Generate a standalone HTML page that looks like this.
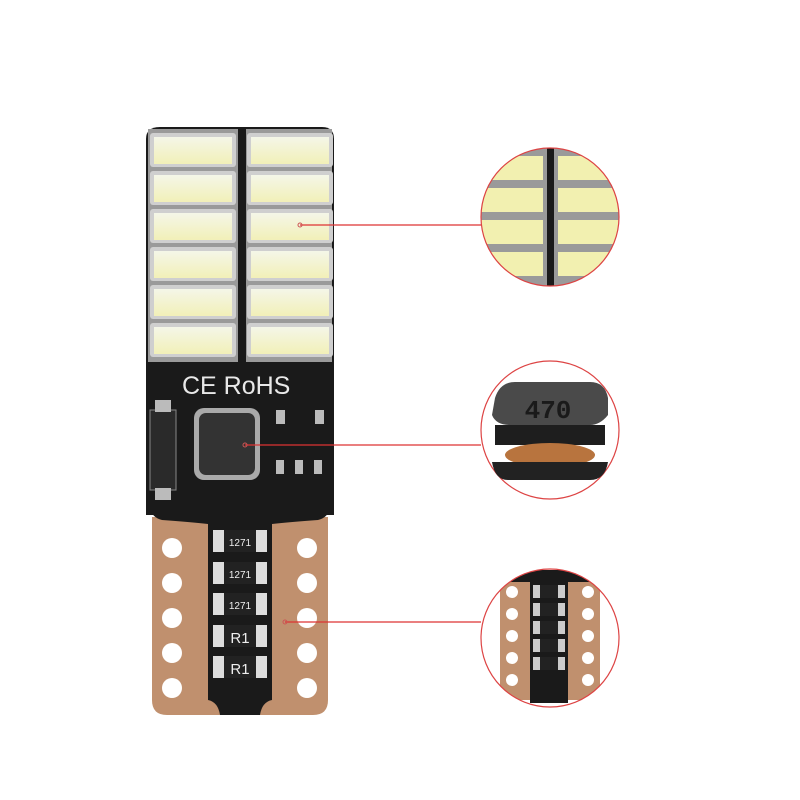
<!DOCTYPE html>
<html><head><style>html,body{margin:0;padding:0;background:#fff;width:800px;height:800px;overflow:hidden}</style></head>
<body>
<svg width="800" height="800" viewBox="0 0 800 800" xmlns="http://www.w3.org/2000/svg">
<defs>
<linearGradient id="led" x1="0" y1="0" x2="0" y2="1"><stop offset="0" stop-color="#f4f6e8"/><stop offset="1" stop-color="#f2f0b8"/></linearGradient>
<clipPath id="c1"><circle cx="550" cy="217" r="69"/></clipPath>
<clipPath id="c3"><circle cx="550" cy="638" r="69"/></clipPath>
</defs>
<!-- board top -->
<path d="M160 127 H322 Q334 127 334 139 V515 H146 V139 Q146 127 160 127Z" fill="#1a1a1a"/>
<rect x="148" y="129" width="184" height="233" fill="#9a9a9a"/>
<rect x="238" y="129" width="8" height="233" fill="#1a1a1a"/>
<g fill="#cfcfcf">
<rect x="150" y="133" width="86" height="34" rx="3"/><rect x="150" y="171" width="86" height="34" rx="3"/><rect x="150" y="209" width="86" height="34" rx="3"/><rect x="150" y="247" width="86" height="34" rx="3"/><rect x="150" y="285" width="86" height="34" rx="3"/><rect x="150" y="323" width="86" height="34" rx="3"/>
<rect x="247" y="133" width="86" height="34" rx="3"/><rect x="247" y="171" width="86" height="34" rx="3"/><rect x="247" y="209" width="86" height="34" rx="3"/><rect x="247" y="247" width="86" height="34" rx="3"/><rect x="247" y="285" width="86" height="34" rx="3"/><rect x="247" y="323" width="86" height="34" rx="3"/>
</g>
<g fill="url(#led)">
<rect x="154" y="137" width="78" height="27"/><rect x="154" y="175" width="78" height="27"/><rect x="154" y="213" width="78" height="27"/><rect x="154" y="251" width="78" height="27"/><rect x="154" y="289" width="78" height="27"/><rect x="154" y="327" width="78" height="27"/>
<rect x="251" y="137" width="78" height="27"/><rect x="251" y="175" width="78" height="27"/><rect x="251" y="213" width="78" height="27"/><rect x="251" y="251" width="78" height="27"/><rect x="251" y="289" width="78" height="27"/><rect x="251" y="327" width="78" height="27"/>
</g>
<text x="182" y="394" font-family="Liberation Sans, sans-serif" font-size="25" fill="#e8e8e8">CE RoHS</text>
<rect x="150" y="410" width="26" height="80" fill="#2a2a2a" stroke="#888" stroke-width="1"/>
<rect x="155" y="400" width="16" height="12" fill="#bbb"/><rect x="155" y="488" width="16" height="12" fill="#bbb"/>
<rect x="194" y="408" width="66" height="72" rx="10" fill="#aaa"/>
<rect x="199" y="413" width="56" height="62" rx="7" fill="#333"/>
<g fill="#bbb"><rect x="276" y="410" width="9" height="14"/><rect x="315" y="410" width="9" height="14"/><rect x="276" y="460" width="8" height="14"/><rect x="295" y="460" width="8" height="14"/><rect x="314" y="460" width="8" height="14"/></g>
<!-- bottom copper -->
<path d="M152 517 H328 V700 Q328 715 313 715 H167 Q152 715 152 700Z" fill="#c0906e"/>
<path d="M208 520 H272 V700 Q262 702 260 715 H220 Q218 702 208 700Z" fill="#1a1a1a"/>
<path d="M150 505 H330 Q330 517 318 520 Q290 522 272 524 H208 Q190 522 162 520 Q150 517 150 505Z" fill="#1a1a1a"/>
<g fill="#fff">
<circle cx="172" cy="548" r="10"/><circle cx="172" cy="583" r="10"/><circle cx="172" cy="618" r="10"/><circle cx="172" cy="653" r="10"/><circle cx="172" cy="688" r="10"/>
<circle cx="307" cy="548" r="10"/><circle cx="307" cy="583" r="10"/><circle cx="307" cy="618" r="10"/><circle cx="307" cy="653" r="10"/><circle cx="307" cy="688" r="10"/>
</g>
<g fill="#ddd"><rect x="213" y="530" width="54" height="22"/><rect x="213" y="562" width="54" height="22"/><rect x="213" y="593" width="54" height="22"/><rect x="213" y="625" width="54" height="22"/><rect x="213" y="656" width="54" height="22"/></g>
<g fill="#222"><rect x="224" y="530" width="32" height="22"/><rect x="224" y="562" width="32" height="22"/><rect x="224" y="593" width="32" height="22"/><rect x="224" y="625" width="32" height="22"/><rect x="224" y="656" width="32" height="22"/></g>
<g font-family="Liberation Sans, sans-serif" fill="#eee" text-anchor="middle">
<text x="240" y="546" font-size="10">1271</text><text x="240" y="578" font-size="10">1271</text><text x="240" y="609" font-size="10">1271</text>
<text x="240" y="643" font-size="15">R1</text><text x="240" y="674" font-size="15">R1</text></g>
<!-- lines -->
<g stroke="#d33" stroke-width="1.2"><line x1="300" y1="225" x2="481" y2="225"/><line x1="245" y1="445" x2="481" y2="445"/><line x1="285" y1="622" x2="481" y2="622"/></g>
<g fill="none" stroke="#c55" stroke-width="1"><circle cx="300" cy="225" r="2"/><circle cx="245" cy="445" r="2"/><circle cx="285" cy="622" r="2"/></g>
<!-- circle 1 -->
<g clip-path="url(#c1)">
<rect x="470" y="140" width="160" height="160" fill="#9a9a9a"/>
<rect x="547" y="140" width="7" height="160" fill="#1a1a1a"/>
<g fill="#f2f0b0"><rect x="470" y="156" width="73" height="24"/><rect x="470" y="188" width="73" height="24"/><rect x="470" y="220" width="73" height="24"/><rect x="470" y="252" width="73" height="24"/>
<rect x="558" y="156" width="73" height="24"/><rect x="558" y="188" width="73" height="24"/><rect x="558" y="220" width="73" height="24"/><rect x="558" y="252" width="73" height="24"/></g>
</g>
<circle cx="550" cy="217" r="69" fill="none" stroke="#d44" stroke-width="1.2"/>
<!-- circle 2 -->
<circle cx="550" cy="430" r="69" fill="#fff" stroke="#d44" stroke-width="1.2"/>
<path d="M495 398 Q500 382 515 382 H590 Q605 382 608 398 V415 Q600 425 590 425 H510 Q496 425 492 415Z" fill="#4a4a4a"/>
<rect x="495" y="425" width="110" height="20" fill="#1e1e1e"/>
<ellipse cx="550" cy="455" rx="45" ry="12" fill="#b8743e"/>
<path d="M492 462 H608 Q605 480 590 480 H508 Q495 480 492 462Z" fill="#222"/>
<text x="548" y="418" font-family="Liberation Mono, monospace" font-size="26" font-weight="bold" fill="#1a1a1a" text-anchor="middle">470</text>
<!-- circle 3 -->
<g clip-path="url(#c3)">
<rect x="470" y="560" width="160" height="160" fill="#fff"/>
<path d="M500 578 H600 V690 Q600 700 590 700 H510 Q500 700 500 690Z" fill="#c0906e"/>
<rect x="500" y="570" width="100" height="12" fill="#1a1a1a"/>
<rect x="530" y="578" width="38" height="125" fill="#1a1a1a"/>
<g fill="#fff"><circle cx="512" cy="592" r="6"/><circle cx="512" cy="614" r="6"/><circle cx="512" cy="636" r="6"/><circle cx="512" cy="658" r="6"/><circle cx="512" cy="680" r="6"/>
<circle cx="588" cy="592" r="6"/><circle cx="588" cy="614" r="6"/><circle cx="588" cy="636" r="6"/><circle cx="588" cy="658" r="6"/><circle cx="588" cy="680" r="6"/></g>
<g fill="#ccc"><rect x="533" y="585" width="32" height="13"/><rect x="533" y="603" width="32" height="13"/><rect x="533" y="621" width="32" height="13"/><rect x="533" y="639" width="32" height="13"/><rect x="533" y="657" width="32" height="13"/></g>
<g fill="#222"><rect x="540" y="585" width="18" height="13"/><rect x="540" y="603" width="18" height="13"/><rect x="540" y="621" width="18" height="13"/><rect x="540" y="639" width="18" height="13"/><rect x="540" y="657" width="18" height="13"/></g>
</g>
<circle cx="550" cy="638" r="69" fill="none" stroke="#d44" stroke-width="1.2"/>
</svg>
</body></html>
